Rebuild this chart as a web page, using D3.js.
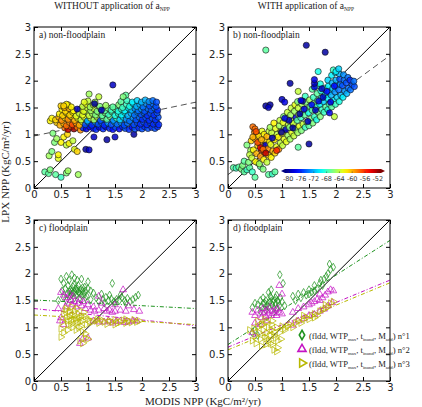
<!DOCTYPE html>
<html lang="en">
<head>
<meta charset="UTF-8">
<title>LPX NPP vs MODIS NPP</title>
<script src="https://d3js.org/d3.v7.min.js"></script>
<style>
  body { margin: 0; background: #fff; }
  svg { display: block; }
  .tick text { font-family: "DejaVu Sans", sans-serif; font-size: 10px; fill: #222; }
  .serif { font-family: "Liberation Serif", "DejaVu Serif", serif; fill: #222; }
  .cb text { font-family: "DejaVu Sans", sans-serif; font-size: 6.5px; fill: #333; }
</style>
</head>
<body>
<svg id="chart" width="422" height="407"></svg>
<script>
// axis ticks (both axes, every panel)
const tickValues = [0, 0.5, 1, 1.5, 2, 2.5, 3];
const tickLabels = ["0", "0.5", "1", "1.5", "2", "2.5", "3"];
const cbTicks = [-80, -76, -72, -68, -64, -60, -56, -52];

// non-floodplain points [MODIS, LPX, colour value]
const nonFloodWithout = [
  [0.2,0.3,-67],[0.27,0.27,-67],[0.3,0.34,-66],[0.4,0.25,-67],[0.5,0.2,-68],[0.6,0.28,-66],[0.63,0.32,-65],[0.82,0.25,-65],
  [0.28,0.6,-65],[0.33,0.68,-66],[0.45,0.55,-63],[0.45,0.62,-62],[0.5,0.85,-62],[0.6,0.8,-64],[0.65,0.83,-62],[0.75,0.72,-63],
  [0.8,0.68,-61],[0.72,0.88,-64],[0.38,0.85,-66],[0.42,0.92,-65],[0.35,1.02,-66],[0.55,0.95,-62],[0.62,1.0,-61],[0.3,1.25,-62],
  [0.96,0.72,-80],[1.02,0.71,-79],[1.35,0.9,-80],[1.5,0.95,-79],[1.85,1.0,-80],[1.11,0.95,-79],
  [0.57,1.12,-58],[0.63,1.09,-53],[0.69,1.14,-57],[0.74,1.1,-52],[0.8,1.13,-58],[0.86,1.08,-59],[0.91,1.12,-76],[0.97,1.1,-78],
  [1.03,1.14,-77],[1.1,1.11,-77],[1.15,1.09,-76],[1.21,1.13,-78],[1.28,1.1,-76],[1.33,1.14,-77],[1.4,1.11,-76],[1.46,1.09,-77],
  [1.51,1.13,-75],[1.58,1.1,-77],[1.64,1.14,-76],[1.69,1.11,-75],[1.76,1.09,-76],[1.82,1.13,-77],[1.87,1.1,-75],[1.94,1.12,-76],
  [2.0,1.1,-75],[2.05,1.14,-76],[2.11,1.11,-75],[2.18,1.13,-76],[2.24,1.11,-75],[2.29,1.14,-76],
  [0.42,1.22,-61],[0.48,1.17,-60],[0.55,1.2,-60],[0.6,1.16,-58],[0.66,1.22,-59],[0.71,1.18,-57],[0.78,1.21,-59],[0.84,1.17,-60],
  [0.9,1.23,-63],[0.95,1.18,-75],[1.01,1.22,-74],[1.07,1.17,-76],[1.13,1.23,-73],[1.19,1.19,-75],[1.25,1.22,-74],[1.3,1.17,-76],
  [1.37,1.21,-73],[1.43,1.18,-75],[1.49,1.23,-72],[1.54,1.19,-74],[1.61,1.22,-73],[1.67,1.17,-75],[1.73,1.21,-74],[1.79,1.24,-73],
  [1.85,1.18,-75],[1.91,1.22,-75],[1.97,1.19,-76],[2.03,1.23,-75],[2.09,1.18,-76],[2.15,1.22,-75],[2.21,1.19,-76],[2.27,1.23,-75],
  [2.31,1.18,-76],
  [0.33,1.3,-62],[0.4,1.27,-61],[0.46,1.32,-60],[0.51,1.26,-59],[0.57,1.31,-61],[0.63,1.28,-59],[0.69,1.33,-61],[0.75,1.26,-60],
  [0.81,1.3,-63],[0.87,1.27,-64],[0.93,1.32,-63],[0.99,1.25,-72],[1.05,1.3,-64],[1.11,1.27,-65],[1.17,1.32,-64],[1.23,1.26,-75],
  [1.28,1.31,-66],[1.35,1.28,-67],[1.41,1.33,-66],[1.47,1.26,-73],[1.53,1.3,-68],[1.59,1.27,-71],[1.65,1.32,-70],[1.71,1.28,-73],
  [1.77,1.25,-74],[1.83,1.31,-73],[1.89,1.27,-75],[1.95,1.32,-74],[2.01,1.28,-76],[2.07,1.31,-75],[2.13,1.26,-76],[2.19,1.3,-75],
  [2.25,1.27,-76],[2.3,1.32,-75],
  [0.47,1.38,-62],[0.53,1.35,-61],[0.6,1.4,-62],[0.66,1.36,-61],[0.72,1.41,-62],[0.78,1.34,-63],[0.84,1.39,-64],[0.9,1.36,-63],
  [0.96,1.42,-65],[1.02,1.35,-64],[1.08,1.39,-65],[1.14,1.36,-66],[1.2,1.41,-65],[1.26,1.35,-67],[1.32,1.4,-66],[1.38,1.37,-68],
  [1.44,1.42,-67],[1.5,1.35,-69],[1.56,1.39,-68],[1.62,1.36,-70],[1.68,1.41,-69],[1.74,1.35,-72],[1.8,1.39,-72],[1.86,1.36,-74],
  [1.92,1.41,-73],[1.98,1.37,-75],[2.04,1.4,-74],[2.1,1.35,-76],[2.16,1.39,-75],[2.22,1.36,-76],[2.28,1.4,-75],
  [0.52,1.46,-62],[0.58,1.43,-61],[0.65,1.48,-60],[0.73,1.44,-62],[0.86,1.47,-64],[0.92,1.43,-63],[0.99,1.49,-64],[1.05,1.44,-65],
  [1.11,1.48,-64],[1.17,1.43,-66],[1.24,1.47,-65],[1.31,1.44,-67],[1.37,1.49,-66],[1.43,1.45,-68],[1.5,1.48,-67],[1.56,1.43,-69],
  [1.62,1.47,-68],[1.68,1.44,-70],[1.75,1.49,-70],[1.81,1.45,-72],[1.87,1.48,-73],[1.93,1.44,-74],[1.99,1.47,-73],[2.05,1.43,-75],
  [2.11,1.48,-74],[2.17,1.45,-75],[2.23,1.49,-74],[2.29,1.45,-76],
  [0.5,1.53,-61],[0.56,1.5,-60],[0.63,1.55,-61],[0.69,1.51,-62],[0.9,1.52,-64],[0.97,1.56,-63],[1.04,1.51,-65],[1.1,1.55,-64],
  [1.22,1.52,-66],[1.33,1.54,-65],[1.46,1.51,-67],[1.57,1.55,-66],[1.64,1.5,-68],[1.71,1.56,-68],[1.77,1.52,-69],[1.84,1.57,-71],
  [1.9,1.52,-72],[1.96,1.56,-72],[2.02,1.51,-74],[2.08,1.57,-73],[2.14,1.53,-75],[2.2,1.57,-74],[2.26,1.52,-75],
  [1.0,1.62,-64],[1.13,1.6,-65],[1.61,1.61,-67],[1.72,1.63,-68],[1.82,1.6,-70],[1.91,1.63,-71],[1.99,1.6,-72],[2.06,1.64,-72],
  [2.13,1.61,-73],[2.2,1.63,-74],[2.27,1.6,-75],
  [1.02,1.75,-65],[1.2,1.7,-64],[1.7,1.73,-67],[0.93,1.6,-63],[1.65,1.7,-66],[0.6,1.56,-62],[0.55,1.53,-61],
  [1.46,1.92,-79],[0.8,1.47,-79],[1.12,1.57,-80],[1.25,1.45,-79]
];

const nonFloodWith = [
  [0.1,0.38,-67],[0.15,0.37,-68],[0.2,0.39,-67],[0.25,0.35,-66],[0.3,0.3,-67],[0.35,0.34,-68],[0.27,0.42,-66],[0.4,0.38,-67],
  [0.45,0.3,-68],[0.5,0.2,-67],[0.55,0.47,-66],[0.6,0.4,-67],[0.65,0.35,-66],[0.75,0.25,-67],[0.82,0.26,-68],[0.87,0.3,-67],
  [0.35,0.8,-66],[0.3,0.5,-67],[0.38,0.48,-66],[0.42,0.7,-65],[0.4,0.62,-64],
  [0.44,0.56,-64],[0.47,0.71,-62],[0.43,0.88,-61],[0.49,1.04,-59],[0.46,1.14,-58],[0.51,0.49,-62],[0.53,0.64,-60],[0.55,0.79,-61],
  [0.5,0.92,-60],[0.54,1.01,-62],[0.58,0.45,-65],[0.6,0.59,-59],[0.62,0.71,-57],[0.59,0.84,-60],[0.57,0.97,-61],[0.63,1.06,-63],
  [0.66,0.53,-62],[0.68,0.66,-58],[0.65,0.77,-59],[0.69,0.89,-61],[0.67,1.0,-62],[0.7,0.8,-79],[0.72,0.48,-64],[0.75,0.61,-61],
  [0.74,0.73,-59],[0.77,0.86,-62],[0.72,0.96,-60],[0.76,1.06,-64],[0.8,0.57,-62],[0.83,0.69,-60],[0.79,0.81,-63],[0.84,0.94,-62],
  [0.81,1.03,-64],[0.78,1.13,-65],[0.87,0.65,-61],[0.9,0.77,-63],[0.86,0.9,-62],[0.91,1.0,-64],[0.88,1.11,-63],[0.85,1.21,-62],
  [0.94,0.72,-59],[0.97,0.84,-64],[0.93,0.95,-62],[0.98,1.06,-63],[0.95,1.16,-65],[0.96,1.26,-64],[1.01,0.79,-64],[1.04,0.91,-63],
  [1.0,1.02,-62],[1.05,1.12,-65],[1.02,1.22,-63],[1.03,1.33,-66],[1.08,0.86,-63],[1.11,0.98,-65],[1.07,1.09,-79],[1.12,1.18,-64],
  [1.09,1.29,-66],[1.1,1.41,-64],[1.15,0.91,-65],[1.18,1.03,-63],[1.14,1.13,-66],[1.19,1.24,-64],[1.16,1.36,-65],[1.17,1.49,-64],
  [1.22,0.97,-64],[1.25,1.09,-66],[1.21,1.2,-64],[1.26,1.31,-78],[1.23,1.43,-65],[1.24,1.55,-63],[1.29,1.03,-65],[1.32,1.15,-63],
  [1.28,1.26,-67],[1.31,1.37,-65],[1.3,1.49,-64],[1.29,1.61,-66],
  [1.36,1.07,-66],[1.39,1.19,-64],[1.35,1.31,-68],[1.38,1.43,-66],[1.37,1.56,-65],[1.43,1.13,-68],[1.46,1.23,-65],[1.42,1.36,-67],
  [1.45,1.47,-66],[1.44,1.6,-66],[1.43,1.71,-68],[1.5,1.16,-67],[1.53,1.29,-66],[1.49,1.4,-69],[1.52,1.52,-67],[1.51,1.64,-65],
  [1.57,1.21,-66],[1.6,1.33,-68],[1.56,1.45,-67],[1.59,1.57,-66],[1.58,1.69,-68],[1.56,1.84,-67],[1.64,1.27,-69],[1.67,1.41,-66],
  [1.63,1.51,-68],[1.66,1.63,-67],[1.65,1.76,-67],[1.64,1.9,-68],[1.71,1.33,-66],[1.74,1.46,-68],[1.7,1.56,-70],[1.73,1.68,-69],
  [1.72,1.81,-69],[1.71,1.94,-69],[1.78,1.41,-68],[1.81,1.51,-67],[1.77,1.61,-71],[1.8,1.73,-70],[1.79,1.86,-68],
  [1.85,1.46,-69],[1.88,1.56,-68],[1.84,1.67,-70],[1.87,1.79,-72],[1.86,1.9,-70],[1.85,2.01,-71],[1.92,1.51,-67],[1.95,1.63,-70],
  [1.91,1.73,-72],[1.94,1.85,-71],[1.93,1.96,-72],[1.92,2.1,-70],[1.99,1.56,-68],[2.02,1.69,-71],[1.98,1.79,-73],[2.01,1.91,-74],
  [2.0,2.01,-72],[1.99,2.15,-71],[2.06,1.61,-69],[2.09,1.73,-72],[2.05,1.83,-74],[2.08,1.93,-73],[2.07,2.03,-75],[2.06,2.13,-72],
  [2.13,1.69,-70],[2.16,1.81,-73],[2.12,1.91,-75],[2.15,2.01,-74],[2.14,2.11,-73],[2.2,1.76,-72],[2.23,1.86,-74],[2.19,1.96,-75],
  [2.22,2.06,-74],[2.27,1.83,-74],[2.3,1.93,-75],[2.26,2.01,-76],[2.34,1.89,-75],[2.33,1.99,-74],
  [0.82,0.93,-79],[0.99,1.04,-80],[1.13,1.26,-79],[1.33,1.38,-80],[1.41,1.47,-78],[1.48,1.24,-79],[1.55,1.55,-77],[1.62,1.45,-79],
  [1.68,1.62,-78],[1.76,1.69,-79],[1.83,1.8,-77],[1.9,1.6,-78],[1.2,1.12,-80],[1.05,1.3,-78],[1.6,1.88,-78],[1.74,1.85,-79],
  [1.38,1.62,-79],[1.97,1.9,-77],
  [0.5,1.1,-58],[0.52,1.05,-57],[0.6,0.75,-54],[0.65,0.72,-58],[0.7,0.65,-53],[0.55,0.85,-57],[0.9,0.7,-56],[0.46,0.95,-60],
  [0.62,0.9,-60],
  [0.7,2.57,-67],[1.45,2.66,-80],[1.8,2.53,-80],[0.7,1.53,-80],[0.78,1.55,-80],[0.75,1.5,-79],[1.15,1.95,-80],[1.3,1.8,-64],
  [1.0,1.65,-79],[1.05,1.6,-78],[1.35,1.63,-78],[1.3,0.76,-67],[1.5,0.82,-80],[1.6,1.95,-79],[1.6,2.02,-78],[1.67,2.17,-69],
  [1.95,2.2,-68],[2.0,2.17,-70],[2.05,2.22,-71],[1.97,1.33,-64],[1.88,1.4,-78]
];

// floodplain points [MODIS, LPX], one array per parameter set
const floodWithout1 = [
  [0.5,1.9],[0.55,1.82],[0.6,1.95],[0.65,1.88],[0.7,1.98],[0.75,1.92],[0.8,1.88],[0.88,1.9],[1.0,1.85],[1.45,1.82],
  [0.52,1.68],[0.58,1.72],[0.63,1.78],[0.68,1.7],[0.72,1.76],[0.77,1.72],[0.82,1.78],[0.86,1.7],[0.9,1.74],[0.95,1.68],
  [1.0,1.72],[1.05,1.68],[1.1,1.64],[0.62,1.62],[0.67,1.58],[0.72,1.64],[0.78,1.6],[0.83,1.65],[0.88,1.6],[0.93,1.62],
  [0.98,1.58],[0.45,1.5],[0.55,1.55],[0.6,1.5],[0.75,1.55],[0.85,1.55],[0.95,1.55],[1.05,1.52],[1.15,1.55],[1.2,1.48],
  [1.28,1.52],[1.33,1.56],[1.38,1.5],[1.43,1.53],[1.48,1.48],[1.53,1.52],[1.58,1.5],[1.63,1.55],[1.68,1.5],[1.73,1.54],
  [1.78,1.48],[1.83,1.52],[1.88,1.56],[1.93,1.6],[1.6,1.6],[1.3,1.45],[1.5,1.45],[1.7,1.45],[1.4,1.6],[1.25,1.62],
  [0.7,1.68],[0.8,1.68],[0.74,1.8],[0.66,1.66],[0.76,1.66],[0.85,1.63],[0.8,1.72],[0.9,1.68],[0.69,1.62],[0.94,1.75]
];
const floodWithout2 = [
  [0.45,1.35],[0.5,1.65],[0.55,1.6],[0.6,1.55],[0.62,1.45],[0.68,1.5],[0.7,1.42],[0.75,1.48],[0.78,1.38],[0.82,1.45],
  [0.85,1.52],[0.88,1.4],[0.92,1.48],[0.95,1.35],[1.0,1.42],[1.05,1.32],[1.1,1.38],[1.12,1.3],[0.66,1.62],[0.72,1.58],
  [0.58,1.38],[1.2,1.32],[1.3,1.35],[1.35,1.3],[1.4,1.32],[1.45,1.28],[1.5,1.3],[1.6,1.32],[1.7,1.3],[1.75,1.4],
  [1.85,1.33],[1.95,1.3],[1.65,1.7],[1.5,1.42],[1.2,1.58],[0.5,1.18],[0.48,1.12],[0.55,1.05],[1.25,1.45],[1.1,1.12],
  [1.2,1.1],[1.3,1.1],[1.38,1.12],[1.45,1.08],[1.52,1.11],[1.6,1.12],[1.68,1.09],[1.75,1.1],[1.83,1.12],[1.9,1.12],
  [1.0,0.8],[0.85,0.7],[0.9,0.78]
];
const floodWithout3 = [
  [0.5,0.97],[0.52,1.1],[0.55,1.25],[0.58,1.32],[0.6,1.18],[0.63,1.05],[0.65,1.28],[0.68,1.12],[0.7,1.22],[0.72,1.0],
  [0.75,1.3],[0.77,1.15],[0.8,1.08],[0.82,1.25],[0.85,1.18],[0.87,1.02],[0.9,1.12],[0.92,1.28],[0.95,1.2],[0.97,1.05],
  [1.0,1.15],[1.03,1.1],[0.6,1.35],[0.7,1.38],[0.8,1.35],[0.65,1.2],[0.75,1.22],[0.85,1.1],[0.73,1.15],[0.62,1.12],
  [0.55,0.9],[0.62,0.95],[0.78,0.95],[0.9,0.92],[0.95,0.88],[0.68,1.05],[0.78,1.12],[0.88,1.2],[0.66,1.3],[0.83,1.0],
  [1.08,1.1],[1.15,1.12],[1.2,1.08],[1.25,1.14],[1.3,1.1],[1.35,1.06],[1.4,1.12],[1.45,1.1],[1.5,1.14],[1.55,1.08],
  [1.6,1.1],[1.65,1.13],[1.7,1.08],[1.75,1.12],[1.8,1.09],[1.85,1.14],[1.9,1.1],[1.95,1.12],[1.18,1.15],[1.5,1.05],
  [1.7,1.15],[0.85,0.75],[0.9,0.7],[0.95,0.8],[1.0,0.78],[0.5,0.82]
];
const floodWith1 = [
  [0.45,1.37],[0.5,1.45],[0.55,1.42],[0.6,1.5],[0.62,1.38],[0.65,1.55],[0.68,1.45],[0.7,1.5],[0.72,1.4],[0.75,1.65],
  [0.78,1.48],[0.8,1.55],[0.82,1.42],[0.85,1.5],[0.88,1.45],[0.9,1.6],[0.92,1.5],[0.95,1.4],[0.97,1.55],[1.0,1.48],
  [0.96,1.98],[1.02,1.82],[0.8,1.7],[0.7,1.32],[0.85,1.35],[0.6,1.3],[0.75,1.38],[0.9,1.35],[1.05,1.4],[0.65,1.45],
  [0.78,1.58],[0.88,1.55],[0.74,1.45],[0.83,1.48],[0.93,1.46],
  [1.2,1.58],[1.25,1.5],[1.3,1.62],[1.35,1.55],[1.4,1.65],[1.45,1.6],[1.5,1.7],[1.55,1.66],[1.6,1.78],[1.65,1.72],
  [1.7,1.82],[1.75,1.78],[1.78,1.9],[1.82,1.95],[1.85,2.0],[1.9,2.08],[1.88,2.18],[1.95,2.12],[1.72,1.88],[1.6,1.68],
  [1.5,1.62],[0.5,0.95],[0.45,0.9],[0.55,0.85]
];
const floodWith2 = [
  [0.45,1.28],[0.5,1.22],[0.55,1.32],[0.6,1.25],[0.62,1.18],[0.65,1.35],[0.68,1.28],[0.7,1.2],[0.72,1.32],[0.75,1.25],
  [0.78,1.38],[0.8,1.22],[0.82,1.3],[0.85,1.26],[0.88,1.32],[0.9,1.22],[0.92,1.35],[0.95,1.28],[1.0,1.25],[0.95,1.78],
  [1.0,1.62],[0.72,1.12],[0.6,1.05],[0.5,1.08],[0.45,0.9],
  [1.2,1.28],[1.3,1.35],[1.4,1.38],[1.5,1.42],[1.55,1.45],[1.6,1.48],[1.65,1.52],[1.7,1.5],[1.75,1.55],[1.8,1.6],
  [1.85,1.66],[1.9,1.7],[1.95,1.68],[1.7,1.62],[1.2,1.04],[1.3,1.12],[1.4,1.16],[1.5,1.22],[1.6,1.24],[1.7,1.3],
  [1.78,1.34],[1.85,1.4],[1.93,1.46]
];
const floodWith3 = [
  [0.45,0.75],[0.5,0.85],[0.52,0.7],[0.55,1.0],[0.58,0.9],[0.6,0.78],[0.62,1.05],[0.65,0.95],[0.68,0.82],[0.7,1.1],
  [0.72,0.9],[0.75,0.75],[0.75,1.0],[0.78,0.85],[0.8,1.05],[0.82,0.68],[0.85,0.92],[0.88,0.8],[0.9,1.0],[0.92,0.62],
  [0.95,0.9],[0.98,0.78],[1.0,1.02],[0.85,0.58],[0.9,0.55],[0.62,0.65],[0.7,0.68],[1.05,0.95],[0.55,1.12],[0.68,1.15],
  [0.82,1.12],[0.4,0.95],[0.48,0.98],[0.65,1.05],[0.8,0.95],[0.72,0.8],[0.85,0.85],[0.92,0.75],[0.78,0.7],
  [1.05,0.98],[1.1,1.02],[1.15,1.05],[1.2,1.0],[1.25,1.08],[1.3,1.12],[1.35,1.08],[1.4,1.15],[1.45,1.18],[1.5,1.15],
  [1.55,1.22],[1.6,1.25],[1.65,1.22],[1.7,1.3],[1.75,1.32],[1.8,1.35],[1.85,1.38],[1.9,1.45],[1.95,1.48],[1.6,1.18],
  [1.4,1.22],[1.8,1.42]
];

// fitted lines, end points [x, y]
const fitA = [[0, 0.97], [3, 1.6]];
const fitB = [[0, 0.25], [3, 2.47]];
const fitC = [[[0, 1.51], [3, 1.35]], [[0, 1.35], [3, 1.03]], [[0, 1.23], [3, 1.05]]];
const fitD = [[[0, 0.68], [3, 2.62]], [[0, 0.63], [3, 1.88]], [[0, 0.58], [3, 1.83]]];
const oneToOne = [[0, 0], [3, 3]];

const seriesColors = ["#1f931f", "#c414c4", "#b8b800"];
const legendLabels = ["n°1", "n°2", "n°3"];

const W = 162, H = 161;
const svg = d3.select("#chart");
const x = d3.scaleLinear().domain([0, 3]).range([0, W]);
const y = d3.scaleLinear().domain([0, 3]).range([H, 0]);
const line = d3.line().x(d => x(d[0])).y(d => y(d[1]));

// jet colour map
const jet = d3.scaleLinear()
    .domain([0, 0.125, 0.375, 0.5, 0.625, 0.875, 1])
    .range(["#00007f", "#0000ff", "#00ffff", "#7fff7f", "#ffff00", "#ff0000", "#7f0000"]);
const cNorm = d3.scaleLinear().domain([-81, -51]).clamp(true);
const colour = v => jet(cNorm(v));

function panel(px, py) {
    const g = svg.append("g").attr("transform", `translate(${px},${py})`);
    g.append("path").datum(oneToOne).attr("d", line)
        .attr("stroke", "#000").attr("stroke-width", 1).attr("fill", "none");
    return g;
}

function frame(g, label) {
    const fmt = (d, i) => tickLabels[i];
    g.append("g").attr("transform", `translate(0,${H})`)
        .call(d3.axisBottom(x).tickValues(tickValues).tickFormat(fmt).tickSizeInner(-4).tickSizeOuter(0).tickPadding(3));
    g.append("g")
        .call(d3.axisLeft(y).tickValues(tickValues).tickFormat(fmt).tickSizeInner(-4).tickSizeOuter(0).tickPadding(3));
    g.append("g")
        .call(d3.axisTop(x).tickValues(tickValues).tickFormat("").tickSizeInner(-4).tickSizeOuter(0));
    g.append("g").attr("transform", `translate(${W},0)`)
        .call(d3.axisRight(y).tickValues(tickValues).tickFormat("").tickSizeInner(-4).tickSizeOuter(0));
    g.selectAll(".domain").remove();
    g.append("rect").attr("width", W).attr("height", H)
        .attr("fill", "none").attr("stroke", "#000").attr("stroke-width", 1);
    g.append("text").attr("class", "serif").attr("x", 5).attr("y", 11)
        .attr("font-size", 9.5).text(label);
}

function circles(g, data) {
    g.selectAll(".pt").data(data).enter().append("circle")
        .attr("cx", d => x(d[0])).attr("cy", d => y(d[1])).attr("r", 3.1)
        .attr("fill", d => colour(d[2])).attr("fill-opacity", 0.85)
        .attr("stroke", "#111").attr("stroke-width", 0.6);
}

const shapes = [
    () => d3.symbol(d3.symbolDiamond, 18)(),
    () => d3.symbol(d3.symbolTriangle, 20)(),
    () => d3.symbol(d3.symbolTriangle, 20)()
];
const rot = [0, 0, 90];

function markers(g, sets, fits) {
    fits.forEach((f, i) => {
        g.append("path").datum(f).attr("d", line).attr("fill", "none")
            .attr("stroke", seriesColors[i]).attr("stroke-width", 1)
            .attr("stroke-dasharray", "4,2,1,2");
    });
    sets.forEach((data, i) => {
        g.append("g").selectAll("path").data(data).enter().append("path")
            .attr("d", shapes[i])
            .attr("transform", d => `translate(${x(d[0])},${y(d[1])}) rotate(${rot[i]})`)
            .attr("fill", "none").attr("stroke", seriesColors[i])
            .attr("stroke-width", 0.9).attr("opacity", 0.8);
    });
}

// a) without, non-floodplain
const gA = panel(34, 27);
gA.append("path").datum(fitA).attr("d", line).attr("fill", "none")
    .attr("stroke", "#555").attr("stroke-width", 1).attr("stroke-dasharray", "6,4");
circles(gA, nonFloodWithout);
frame(gA, "a) non-floodplain");

// b) with, non-floodplain
const gB = panel(228, 27);
gB.append("path").datum(fitB).attr("d", line).attr("fill", "none")
    .attr("stroke", "#555").attr("stroke-width", 1).attr("stroke-dasharray", "6,4");
circles(gB, nonFloodWith);
frame(gB, "b) non-floodplain");

// colour bar inside b
const cbX = d3.scaleLinear().domain([-81, -51]).range([57, 153]);
const cb = gB.append("g").attr("class", "cb");
const grad = svg.append("defs").append("linearGradient").attr("id", "jetgrad");
d3.range(0, 1.001, 0.05).forEach(t => {
    grad.append("stop").attr("offset", t).attr("stop-color", jet(t));
});
const cbY = 142, cbH = 4;
cb.append("path")
    .attr("d", `M${cbX(-81) - 4},${cbY + cbH / 2}L${cbX(-81)},${cbY}L${cbX(-81)},${cbY + cbH}Z`)
    .attr("fill", jet(0));
cb.append("path")
    .attr("d", `M${cbX(-51) + 4},${cbY + cbH / 2}L${cbX(-51)},${cbY}L${cbX(-51)},${cbY + cbH}Z`)
    .attr("fill", jet(1));
cb.append("rect").attr("x", cbX(-81)).attr("y", cbY).attr("width", cbX(-51) - cbX(-81)).attr("height", cbH)
    .attr("fill", "url(#jetgrad)");
cb.selectAll("line").data(cbTicks).enter().append("line")
    .attr("x1", d => cbX(d)).attr("x2", d => cbX(d)).attr("y1", cbY + cbH).attr("y2", cbY + cbH - 1.5)
    .attr("stroke", "#333").attr("stroke-width", 0.5);
cb.selectAll("text").data(cbTicks).enter().append("text")
    .attr("x", d => cbX(d)).attr("y", cbY + cbH + 7.5).attr("text-anchor", "middle")
    .text(d => "-" + Math.abs(d));

// c) without, floodplain
const gC = panel(34, 220);
markers(gC, [floodWithout1, floodWithout2, floodWithout3], fitC);
frame(gC, "c) floodplain");

// d) with, floodplain
const gD = panel(228, 220);
markers(gD, [floodWith1, floodWith2, floodWith3], fitD);
frame(gD, "d) floodplain");

// legend in d
const leg = svg.append("g").attr("transform", "translate(302,335)");
legendLabels.forEach((lab, i) => {
    const row = leg.append("g").attr("transform", `translate(0,${i * 14})`);
    row.append("path").attr("d", shapes[i]()).attr("transform", `rotate(${rot[i]}) scale(1.2)`)
        .attr("fill", "none").attr("stroke", seriesColors[i]).attr("stroke-width", 1.3);
    const t = row.append("text").attr("class", "serif").attr("x", 7).attr("y", 3.5).attr("font-size", 8.6);
    t.append("tspan").text("(fldd, WTP");
    t.append("tspan").attr("font-size", 4.8).attr("dy", 2).text("max");
    t.append("tspan").attr("dy", -2).text(", t");
    t.append("tspan").attr("font-size", 4.8).attr("dy", 2).text("inund");
    t.append("tspan").attr("dy", -2).text(", M");
    t.append("tspan").attr("font-size", 4.8).attr("dy", 2).text("add");
    t.append("tspan").attr("dy", -2).text(") " + lab);
});

// titles and axis labels
function title(cx, text) {
    const t = svg.append("text").attr("class", "serif").attr("x", cx).attr("y", 9)
        .attr("text-anchor", "middle").attr("font-size", 9.5);
    t.append("tspan").text(text);
    t.append("tspan").attr("font-size", 5.5).attr("dy", 2).text("NPP");
}
title(112, "WITHOUT application of a");
title(306, "WITH application of a");

svg.append("text").attr("class", "serif").attr("font-size", 11)
    .attr("transform", "translate(9,172) rotate(-90)").attr("text-anchor", "middle")
    .text("LPX NPP (KgC/m\u00b2/yr)");
svg.append("text").attr("class", "serif").attr("font-size", 11)
    .attr("x", 203).attr("y", 405).attr("text-anchor", "middle")
    .text("MODIS NPP (KgC/m\u00b2/yr)");
</script>
</body>
</html>
